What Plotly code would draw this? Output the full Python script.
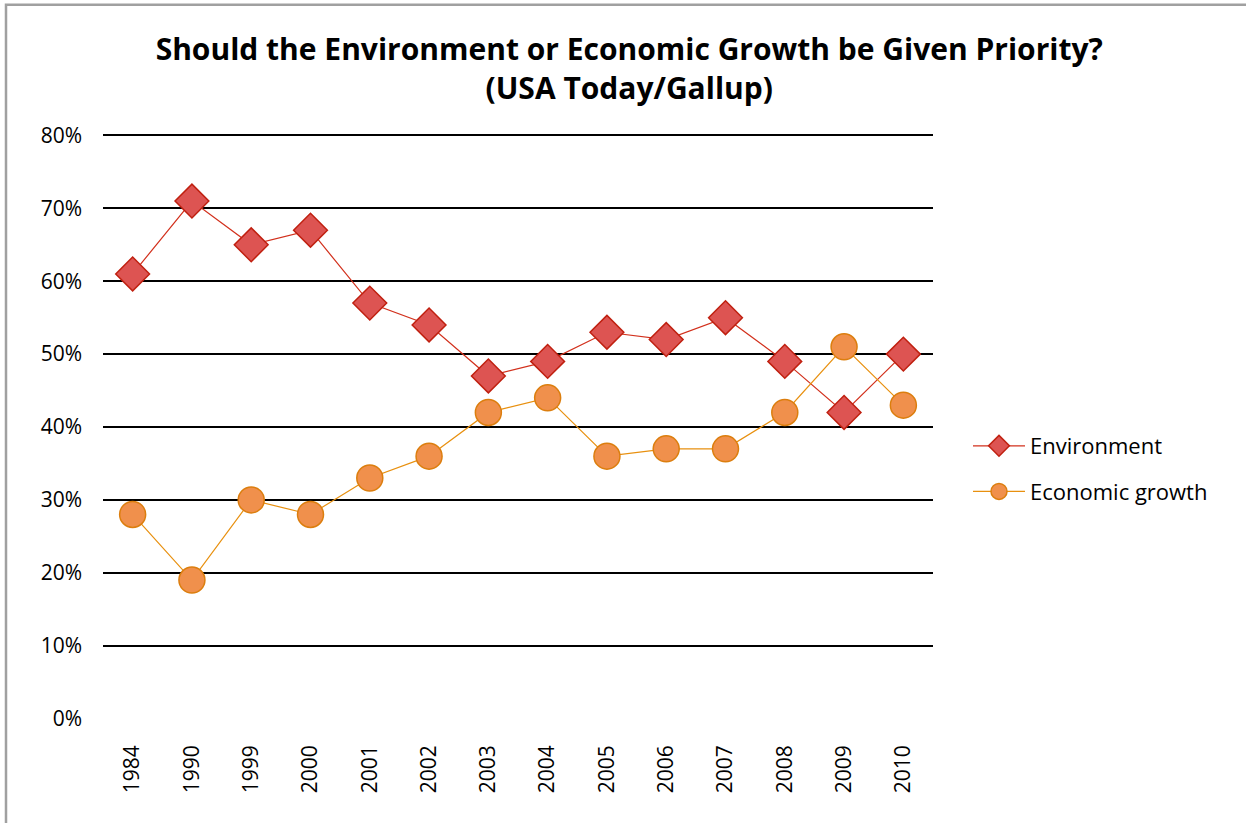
import plotly.graph_objects as go

years = ["1984", "1990", "1999", "2000", "2001", "2002", "2003", "2004",
         "2005", "2006", "2007", "2008", "2009", "2010"]
environment = [61, 71, 65, 67, 57, 54, 47, 49, 53, 52, 55, 49, 42, 50]
economic_growth = [28, 19, 30, 28, 33, 36, 42, 44, 36, 37, 37, 42, 51, 43]
y_ticks = [0, 10, 20, 30, 40, 50, 60, 70, 80]
y_tick_labels = [f"{v}%" for v in y_ticks]

FONT = "'Open Sans', Lato, sans-serif"

W, H = 1246, 823
PAD = 0.2  # small padding so the 80% gridline is drawn
PX_PER_UNIT = (719 - 135) / 80.0
L, R = 103, 1246 - 933
T = 135 - PAD * PX_PER_UNIT
B = (823 - 719) - PAD * PX_PER_UNIT
pw, ph = W - L - R, H - T - B

fig = go.Figure()
fig.add_trace(go.Scatter(
    x=years, y=environment, name="Environment", mode="lines+markers",
    legendgroup="env",
    line=dict(color="#d2301c", width=1.2),
    marker=dict(symbol="diamond", size=26, color="#dd5452",
                line=dict(color="#c02010", width=1.5)),
))
fig.add_trace(go.Scatter(
    x=years, y=economic_growth, name="Economic growth", mode="lines+markers",
    legendgroup="eco",
    line=dict(color="#e8900f", width=1.2),
    marker=dict(symbol="circle", size=26, color="#f0904c",
                line=dict(color="#dc7e0e", width=1.5)),
))

fig.update_layout(
    width=W, height=H,
    margin=dict(l=L, r=R, t=T, b=B, autoexpand=False),
    paper_bgcolor="white", plot_bgcolor="white",
    font=dict(family=FONT, color="black", size=21),
    title=dict(
        text="<b>Should the Environment or Economic Growth be Given Priority?<br>(USA Today/Gallup)</b>",
        x=0.505, xref="container", xanchor="center",
        y=1 - 60 / H, yref="container", yanchor="top",
        font=dict(family=FONT, size=30, color="black"),
    ),
    xaxis=dict(
        type="category", range=[-0.5, 13.5],
        tickangle=-90, showgrid=False, zeroline=False, showline=False,
        ticks="", ticklabelstandoff=20,
        tickfont=dict(family=FONT, size=21, color="black"),
    ),
    yaxis=dict(
        range=[-PAD, 80 + PAD], tickvals=y_ticks, ticktext=y_tick_labels,
        showgrid=True, gridcolor="black", gridwidth=2,
        zeroline=True, zerolinecolor="white", zerolinewidth=3,
        showline=False, ticks="", ticklabelstandoff=20,
        tickfont=dict(family=FONT, size=21, color="black"),
    ),
    legend=dict(
        x=(968 - L) / pw, xanchor="left",
        y=(T + ph - 425) / ph, yanchor="top",
        font=dict(family=FONT, size=22, color="black"),
        itemwidth=52, tracegroupgap=14, bgcolor="rgba(0,0,0,0)",
    ),
    showlegend=True,
    shapes=[dict(
        type="rect", xref="paper", yref="paper",
        x0=(6 - L) / pw, x1=(W + 20 - L) / pw,
        y0=-(B + 20) / ph, y1=(T + ph - 4) / ph,
        line=dict(color="#a0a0a0", width=2.5), fillcolor="rgba(0,0,0,0)",
        layer="below",
    )],
)

fig.write_html("out.html", config={"displayModeBar": False},
               post_script="document.body.style.margin='0';")
